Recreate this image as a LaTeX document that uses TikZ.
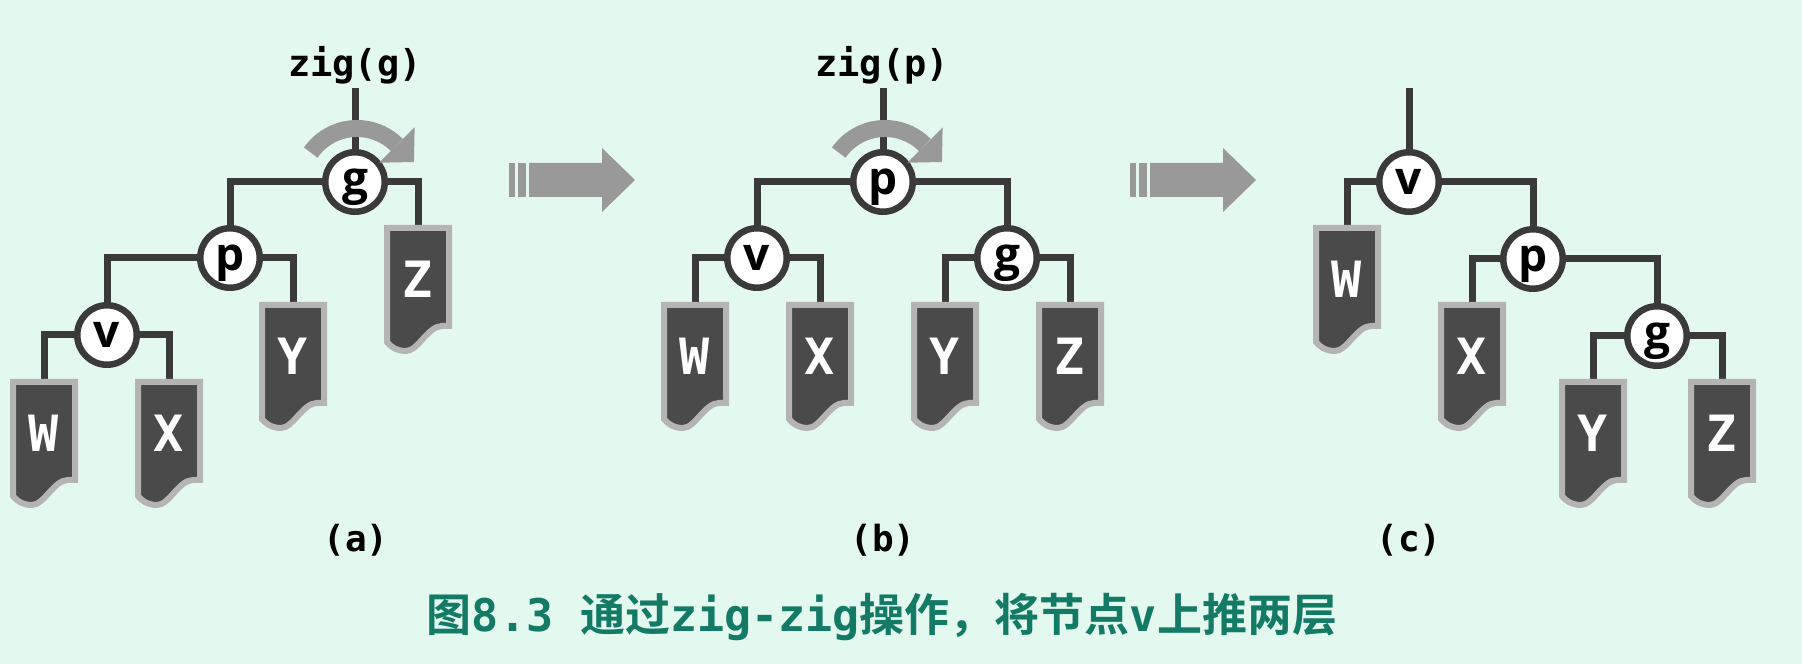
\documentclass[tikz,border=0pt]{standalone}
\usepackage{fontspec}
\setmainfont{DejaVu Sans}
\newfontfamily\monof{DejaVu Sans Mono}
\newfontfamily\osans{Open Sans}
\newfontfamily\cjk[BoldFont={Noto Sans CJK SC Bold}]{Noto Sans CJK SC}
\usetikzlibrary{calc}
\pgfdeclarelayer{bg}
\pgfdeclarelayer{edges}
\pgfsetlayers{bg,edges,main}
\definecolor{bgc}{HTML}{E3F8EF}
\definecolor{linec}{HTML}{3A3A3A}
\definecolor{leaffill}{HTML}{4A4A4A}
\definecolor{leafedge}{HTML}{B4B4B4}
\definecolor{arrowc}{HTML}{999999}
\definecolor{capc}{HTML}{137A65}
\tikzset{
  tnode/.style={circle, draw=linec, line width=6.5pt, fill=white, minimum size=59.5pt,
    inner sep=0pt, font=\osans\bfseries\fontsize{46}{46}\selectfont, text height=25pt, text depth=0pt},
  conn/.style={draw=linec, line width=7pt},
  leafanchor/.style={anchor=north, minimum width=68pt, minimum height=129pt, inner sep=0pt, outer sep=0pt},
  leafshape/.style={fill=leaffill, draw=leafedge, line width=6pt},
  leafletter/.style={text=white, font=\monof\bfseries\fontsize{50}{50}\selectfont, inner sep=0pt},
  oplabel/.style={font=\monof\bfseries\fontsize{37}{37}\selectfont, text=black},
  sublabel/.style={font=\monof\bfseries\fontsize{36}{36}\selectfont, text=black},
  rotarc/.style={draw=arrowc, line width=17pt},
  bigarrow/.style={fill=arrowc},
  captext/.style={font=\cjk\bfseries\fontsize{45}{45}\selectfont, text=capc}
}
\newcommand\leafbox[4]{%
  \node[leafanchor] (#1) at (#2,#3) {};
  \begin{scope}[shift={(#1.north)}]
    \filldraw[leafshape] (-31,-3) -- (31,-3) -- (31,-101) -- (24,-101)
      .. controls (10,-101) and (0,-126) .. (-12,-126)
      .. controls (-22,-126) and (-28,-121) .. (-31,-117) -- cycle;
  \end{scope}
  \node[leafletter] (#1t) at ([yshift=-54pt]#1.north) {#4};
}
\newcommand\rotarrow[1]{%
  \begin{scope}[shift={($(#1.center)+(2,-3)$)}]
    \draw[rotarc] (145:56.5) arc[start angle=145, end angle=45, radius=56.5];
    \fill[arrowc] (45:81.5) -- (22:61.4) -- (45:31.5) -- cycle;
  \end{scope}}
\begin{document}
\begin{tikzpicture}[x=1pt, y=1pt]
\begin{pgfonlayer}{bg}
  \fill[bgc] (0,0) rectangle (1802,664);
\end{pgfonlayer}
\useasboundingbox (0,0) rectangle (1802,664);

% ---------- tree (a)
\node[tnode] (aG) at (355,482) {g};
\node[tnode] (aP) at (230,406) {p};
\node[tnode] (aV) at (107,329) {v};
\leafbox{aZ}{418}{439}{Z}
\leafbox{aY}{293}{362}{Y}
\leafbox{aW}{44}{285}{W}
\leafbox{aX}{169}{285}{X}
\coordinate (aTop) at (355,576);
\node[oplabel] (aOp) at (355,599) {zig(g)};
\node[sublabel] (aLab) at (356,124) {(a)};
\begin{pgfonlayer}{edges}
  \draw[conn] (aG.center) -- (aTop);
  \draw[conn] (aG.center) -| (aP.center);
  \draw[conn] (aG.center) -| (aZ.north);
  \draw[conn] (aP.center) -| (aV.center);
  \draw[conn] (aP.center) -| (aY.north);
  \draw[conn] (aV.center) -| (aW.north);
  \draw[conn] (aV.center) -| (aX.north);
\end{pgfonlayer}
\rotarrow{aG}

% ---------- tree (b)
\node[tnode] (bP) at (883,482) {p};
\node[tnode] (bV) at (757,406) {v};
\node[tnode] (bG) at (1007,406) {g};
\leafbox{bW}{695}{362}{W}
\leafbox{bX}{820}{362}{X}
\leafbox{bY}{945}{362}{Y}
\leafbox{bZ}{1070}{362}{Z}
\coordinate (bTop) at (883,576);
\node[oplabel] (bOp) at (882,599) {zig(p)};
\node[sublabel] (bLab) at (883,124) {(b)};
\begin{pgfonlayer}{edges}
  \draw[conn] (bP.center) -- (bTop);
  \draw[conn] (bP.center) -| (bV.center);
  \draw[conn] (bP.center) -| (bG.center);
  \draw[conn] (bV.center) -| (bW.north);
  \draw[conn] (bV.center) -| (bX.north);
  \draw[conn] (bG.center) -| (bY.north);
  \draw[conn] (bG.center) -| (bZ.north);
\end{pgfonlayer}
\rotarrow{bP}

% ---------- tree (c)
\node[tnode] (cV) at (1409,482) {v};
\node[tnode] (cP) at (1533,405) {p};
\node[tnode] (cG) at (1657,328) {g};
\leafbox{cW}{1347}{439}{W}
\leafbox{cX}{1472}{362}{X}
\leafbox{cY}{1593}{285}{Y}
\leafbox{cZ}{1722}{285}{Z}
\coordinate (cTop) at (1409,576);
\node[sublabel] (cLab) at (1409,124) {(c)};
\begin{pgfonlayer}{edges}
  \draw[conn] (cV.center) -- (cTop);
  \draw[conn] (cV.center) -| (cW.north);
  \draw[conn] (cV.center) -| (cP.center);
  \draw[conn] (cP.center) -| (cX.north);
  \draw[conn] (cP.center) -| (cG.center);
  \draw[conn] (cG.center) -| (cY.north);
  \draw[conn] (cG.center) -| (cZ.north);
\end{pgfonlayer}

% ---------- transition arrows
\foreach \dx in {0,621}{
  \begin{scope}[shift={(\dx,0)}]
    \fill[bigarrow] (509,467) rectangle (515,501);
    \fill[bigarrow] (518,467) rectangle (526,501);
    \fill[bigarrow] (529,467) -- (602,467) -- (602,452) -- (635,484)
      -- (602,516) -- (602,501) -- (529,501) -- cycle;
  \end{scope}
}

% ---------- caption
\node[captext] (cap) at (882,47) {图{\monof 8.3 }通过{\monof zig-zig}操作，将节点{\monof v}上推两层};
\end{tikzpicture}
\end{document}
